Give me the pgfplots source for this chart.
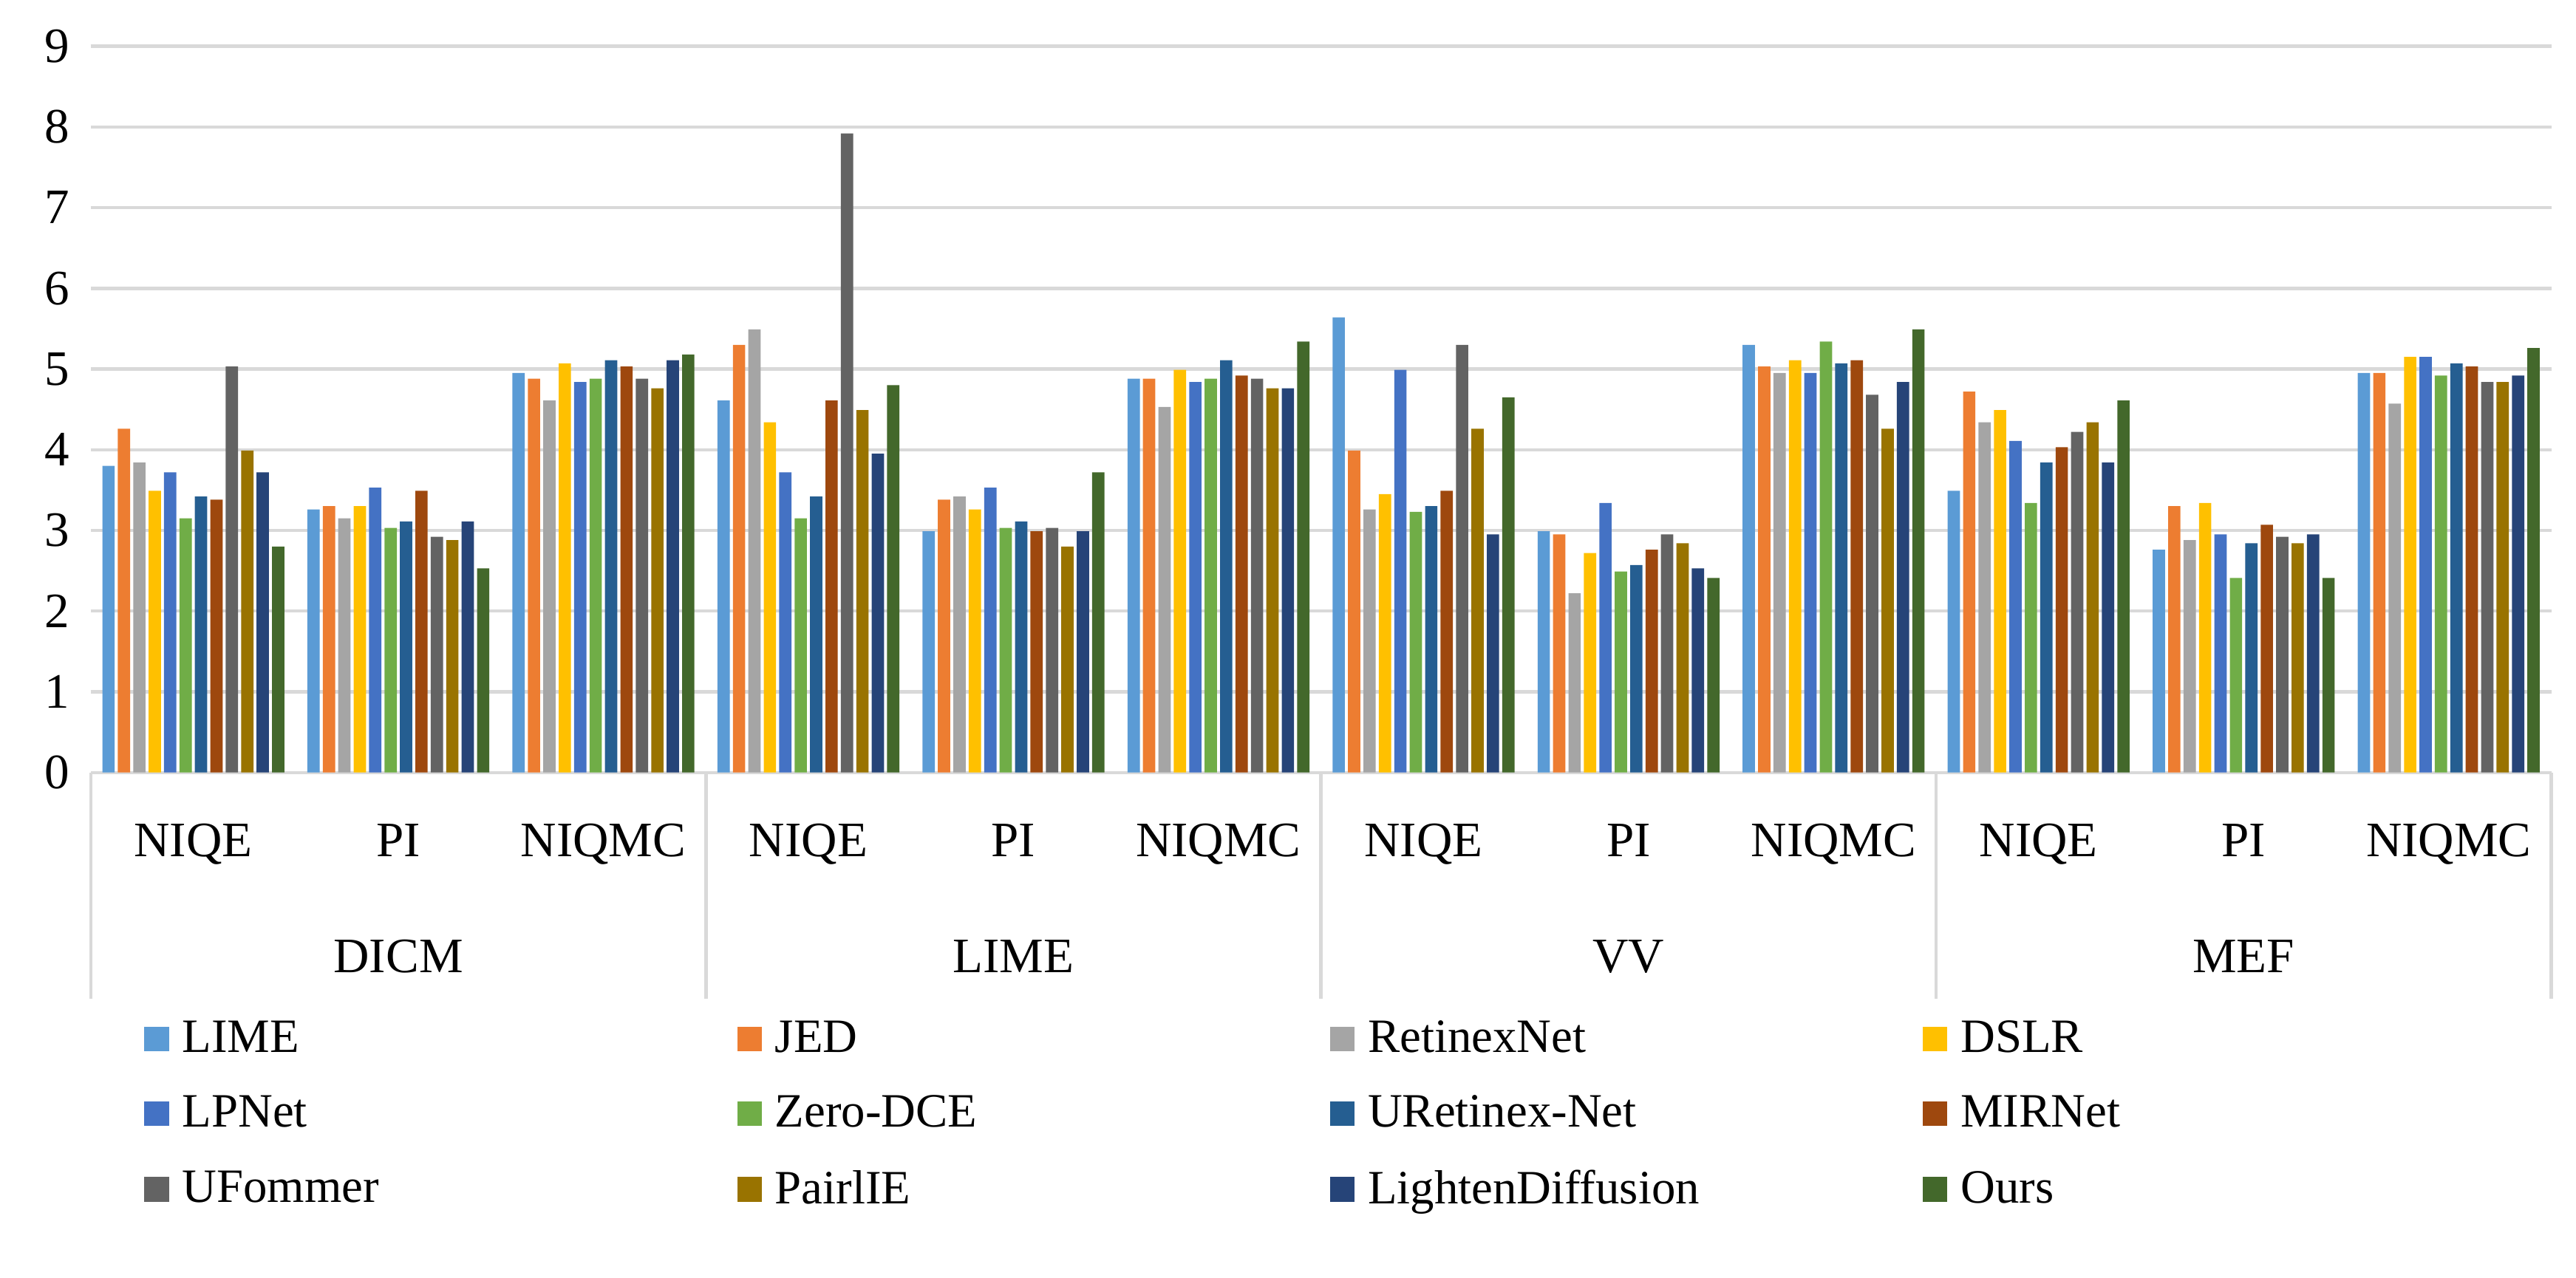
\documentclass[border=0pt]{standalone}
\usepackage{fontspec}
\setmainfont{Liberation Serif}
\usepackage{pgfplots}
\usepackage{pgfplotstable}
\pgfplotsset{compat=1.18}

\definecolor{gridgray}{RGB}{217,217,217}
\definecolor{c1}{HTML}{5B9BD5}
\definecolor{c2}{HTML}{ED7D31}
\definecolor{c3}{HTML}{A5A5A5}
\definecolor{c4}{HTML}{FFC000}
\definecolor{c5}{HTML}{4472C4}
\definecolor{c6}{HTML}{70AD47}
\definecolor{c7}{HTML}{255E91}
\definecolor{c8}{HTML}{9E480E}
\definecolor{c9}{HTML}{636363}
\definecolor{c10}{HTML}{997300}
\definecolor{c11}{HTML}{264478}
\definecolor{c12}{HTML}{43682B}

% rows: DICM / LIME / VV / MEF, each NIQE, PI, NIQMC
\pgfplotstableread{
x  LIME JED  RetinexNet DSLR LPNet ZeroDCE URetinex MIRNet UFommer PairlIE Lighten Ours
0  3.80 4.26 3.84 3.49 3.72 3.15 3.42 3.38 5.03 3.99 3.72 2.80
1  3.26 3.30 3.15 3.30 3.53 3.03 3.11 3.49 2.92 2.88 3.11 2.53
2  4.95 4.88 4.61 5.07 4.84 4.88 5.11 5.03 4.88 4.76 5.11 5.18
3  4.61 5.30 5.49 4.34 3.72 3.15 3.42 4.61 7.92 4.49 3.95 4.80
4  2.99 3.38 3.42 3.26 3.53 3.03 3.11 2.99 3.03 2.80 2.99 3.72
5  4.88 4.88 4.53 4.99 4.84 4.88 5.11 4.92 4.88 4.76 4.76 5.34
6  5.64 3.99 3.26 3.45 4.99 3.23 3.30 3.49 5.30 4.26 2.95 4.65
7  2.99 2.95 2.22 2.72 3.34 2.49 2.57 2.76 2.95 2.84 2.53 2.41
8  5.30 5.03 4.95 5.11 4.95 5.34 5.07 5.11 4.68 4.26 4.84 5.49
9  3.49 4.72 4.34 4.49 4.11 3.34 3.84 4.03 4.22 4.34 3.84 4.61
10 2.76 3.30 2.88 3.34 2.95 2.41 2.84 3.07 2.92 2.84 2.95 2.41
11 4.95 4.95 4.57 5.15 5.15 4.92 5.07 5.03 4.84 4.84 4.92 5.26
}\data

\newcommand{\lent}[1]{\makebox[166pt][l]{#1}}

\begin{document}
\begin{tikzpicture}
\begin{axis}[
    scale only axis,
    width=745pt, height=220pt,
    ybar=0.94pt, bar width=3.73pt,
    xmin=-0.5, xmax=11.5,
    ymin=0, ymax=9,
    ytick={0,...,9},
    ymajorgrids,
    grid style={line width=1pt, gridgray},
    axis line style={draw=none},
    major tick length=0pt,
    xtick pos=bottom, ytick pos=left,
    xtick={0,...,11},
    xticklabels={NIQE,PI,NIQMC,NIQE,PI,NIQMC,NIQE,PI,NIQMC,NIQE,PI,NIQMC},
    xticklabel style={anchor=base, yshift=-25.5pt},
    extra x ticks={-0.5,2.5,5.5,8.5,11.5},
    extra x tick labels={},
    extra x tick style={major tick length=68.5pt, tick align=outside,
        tick style={line width=1pt, gridgray}},
    yticklabel style={xshift=-3pt},
    tick label style={font=\fontsize{15}{18}\selectfont},
    /pgf/number format/assume math mode=true,
    clip=false,
    legend columns=4,
    legend image code/.code={\path[#1, draw=none] (0pt,-3.75pt) rectangle (7.5pt,3.75pt);},
    legend style={at={(axis cs:-0.5,0)}, anchor=north west,
        xshift=13pt, yshift=-71pt, draw=none, fill=none,
        font=\fontsize{14.5}{17}\selectfont,
        /tikz/every odd column/.append style={column sep=2pt},
        row sep=7.5pt},
]
\addplot[fill=c1, draw=none] table[x=x, y=LIME] {\data};
\addlegendentry{\lent{LIME}}
\addplot[fill=c2, draw=none] table[x=x, y=JED] {\data};
\addlegendentry{\lent{JED}}
\addplot[fill=c3, draw=none] table[x=x, y=RetinexNet] {\data};
\addlegendentry{\lent{RetinexNet}}
\addplot[fill=c4, draw=none] table[x=x, y=DSLR] {\data};
\addlegendentry{\lent{DSLR}}
\addplot[fill=c5, draw=none] table[x=x, y=LPNet] {\data};
\addlegendentry{\lent{LPNet}}
\addplot[fill=c6, draw=none] table[x=x, y=ZeroDCE] {\data};
\addlegendentry{\lent{Zero-DCE}}
\addplot[fill=c7, draw=none] table[x=x, y=URetinex] {\data};
\addlegendentry{\lent{URetinex-Net}}
\addplot[fill=c8, draw=none] table[x=x, y=MIRNet] {\data};
\addlegendentry{\lent{MIRNet}}
\addplot[fill=c9, draw=none] table[x=x, y=UFommer] {\data};
\addlegendentry{\lent{UFommer}}
\addplot[fill=c10, draw=none] table[x=x, y=PairlIE] {\data};
\addlegendentry{\lent{PairlIE}}
\addplot[fill=c11, draw=none] table[x=x, y=Lighten] {\data};
\addlegendentry{\lent{LightenDiffusion}}
\addplot[fill=c12, draw=none] table[x=x, y=Ours] {\data};
\addlegendentry{\lent{Ours}}

\node[anchor=base, font=\fontsize{15}{18}\selectfont] at (axis cs:1,0) [yshift=-60.5pt] {DICM};
\node[anchor=base, font=\fontsize{15}{18}\selectfont] at (axis cs:4,0) [yshift=-60.5pt] {LIME};
\node[anchor=base, font=\fontsize{15}{18}\selectfont] at (axis cs:7,0) [yshift=-60.5pt] {VV};
\node[anchor=base, font=\fontsize{15}{18}\selectfont] at (axis cs:10,0) [yshift=-60.5pt] {MEF};
\end{axis}
\path (current axis.south west) ++(-27.5pt,-153pt) coordinate (bl);
\path (current axis.north east) ++(7.5pt,14pt) coordinate (tr);
\path (bl) rectangle (tr);
\end{tikzpicture}
\end{document}
